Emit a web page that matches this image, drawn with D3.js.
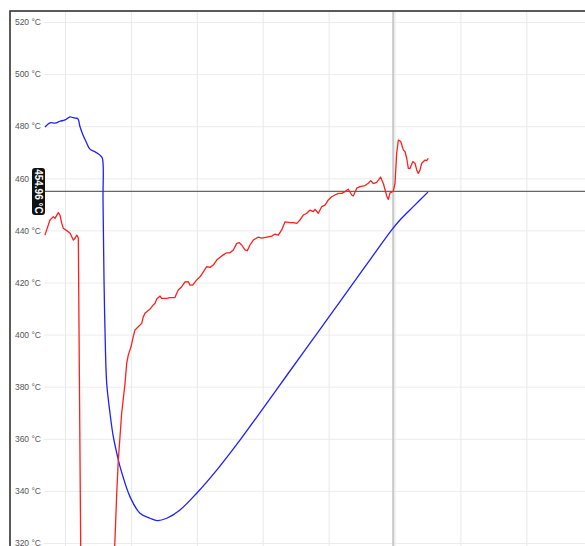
<!DOCTYPE html>
<html><head><meta charset="utf-8">
<script src="https://cdn.jsdelivr.net/npm/d3@7"></script>
<style>body{margin:0;background:#fff;overflow:hidden} svg{display:block}</style>
</head><body><svg id="c" width="585" height="546"></svg>
<script>
// ---- data (x in minutes, value in °C) ----
const redX = [-0.304,-0.278,-0.228,-0.178,-0.152,-0.102,-0.076,-0.050,-0.026,0.026,0.076,0.126,0.152,0.178,0.193,0.202,
  0.247,0.455,0.706,
  0.759,0.785,0.809,0.860,0.911,0.936,0.961,1.002,1.036,1.062,1.112,1.164,1.188,1.214,1.240,1.290,1.340,1.366,1.392,1.442,
  1.467,1.492,1.543,1.593,1.669,1.695,1.719,1.771,1.821,1.871,1.897,1.938,1.999,2.049,2.099,2.150,2.200,2.250,2.302,2.352,
  2.402,2.454,2.504,2.554,2.606,2.645,2.681,2.731,2.766,2.807,2.857,2.933,2.985,3.061,3.137,3.187,3.237,3.288,3.339,3.414,
  3.465,3.516,3.566,3.616,3.669,3.718,3.768,3.794,3.844,3.895,3.946,3.996,4.047,4.097,4.148,4.199,4.249,4.299,4.351,4.375,
  4.427,4.476,4.552,4.602,4.639,4.678,4.730,4.788,4.833,4.882,4.906,4.932,4.980,5.008,5.033,5.058,5.094,5.134,5.160,5.185,
  5.210,5.235,5.276,5.311,5.337,5.361,5.387,5.413,5.463,5.489,5.513];
const redT = [438.2,440.2,444.0,445.3,444.6,446.8,445.9,442.8,440.8,439.9,439.0,436.3,437.0,438.2,437.6,437.1,
  290,288,290,
  321.8,339.1,351.9,369.8,381.3,389.0,392.2,395.4,399.2,401.8,403.0,404.3,406.8,408.2,408.8,409.8,411.4,412.0,413.7,414.8,
  413.9,413.9,413.9,414.2,414.2,415.9,417.1,418.4,420.2,420.3,419.0,419.0,421.0,422.2,424.1,426.1,425.8,426.7,428.6,429.7,
  430.6,431.4,431.4,432.5,435.0,435.3,434.4,432.5,432.2,434.4,436.3,437.4,437.0,437.4,437.8,438.6,438.2,440.2,443.3,443.0,
  443.0,442.7,444.0,445.9,446.6,447.8,447.2,448.1,446.6,449.1,449.7,451.7,452.9,453.6,454.2,454.2,454.9,455.8,453.6,453.2,
  456.2,456.8,457.2,458.1,459.1,458.0,458.4,460.5,457.8,453.2,451.9,454.4,454.96,458.1,469.6,474.7,474.1,470.9,470.2,467.7,
  463.8,463.8,466.4,465.8,463.2,461.9,463.2,465.8,467.0,466.8,467.7];

const blueX = [-0.304,-0.228,-0.152,-0.076,0.000,0.076,0.121,0.167,0.197,0.228,0.273,0.319,0.379,0.455,0.531,0.566,
  0.577,0.592,0.607,0.633,0.683,0.733,0.809,0.835,0.986,1.138,1.290,1.401,1.543,1.745,1.998,2.302,2.655,3.009,3.364,
  3.718,4.071,4.401,4.628,4.958,5.083,5.296,5.508];
const blueT = [479.7,481.3,481.2,481.9,482.4,483.6,483.3,483.1,482.8,479.8,476.6,474.1,471.2,470.2,468.9,467.8,
  451.7,421.0,401.8,381.3,369.8,360.8,351.9,349.3,337.8,331.4,329.5,328.6,329.5,332.7,339.1,348.0,359.5,371.8,384.3,
  396.7,409.1,420.7,428.7,440.2,444.0,449.4,454.7];

const yTicks = [320,340,360,380,400,420,440,460,480,500,520];
const xTicks = [0,1,2,3,4,5,6,7,8];
const hoverX = 4.980;
const hoverValue = 454.96;

// ---- layout ----
const svg = d3.select("#c");
const plotLeft = 44, plotTop = 12, plotRight = 600, plotBottom = 600;
const x = d3.scaleLinear().domain([0, 8]).range([65, 65 + 8 * 65.9]);
const y = d3.scaleLinear().domain([320, 520]).range([543, 22]);

// frame
svg.append("rect").attr("x", 10).attr("y", 11).attr("width", 700).attr("height", 700)
  .attr("fill", "#fff").attr("stroke", "#333").attr("stroke-width", 1.6);

// vertical gridlines
svg.append("g").attr("transform", `translate(0,${plotTop})`)
  .call(d3.axisBottom(x).tickValues(xTicks).tickSize(plotBottom - plotTop).tickFormat(""))
  .call(g => g.select(".domain").remove())
  .call(g => g.selectAll("line").attr("stroke", "#e8e8e8").attr("stroke-width", 1));

// horizontal gridlines
svg.append("g").attr("transform", `translate(${plotLeft},0)`)
  .call(d3.axisRight(y).tickValues(yTicks).tickSize(plotRight - plotLeft).tickFormat(""))
  .call(g => g.select(".domain").remove())
  .call(g => g.selectAll("line").attr("stroke", "#ececec").attr("stroke-width", 1));

// y labels
svg.append("g").attr("transform", `translate(${plotLeft},0)`)
  .call(d3.axisLeft(y).tickValues(yTicks).tickSize(0).tickPadding(3).tickFormat(d => d + " °C"))
  .call(g => g.select(".domain").remove())
  .call(g => g.selectAll("text").attr("fill", "#555").attr("font-size", "8.5px")
     .attr("font-family", "'Liberation Sans', Arial, sans-serif"));

// clip
svg.append("clipPath").attr("id", "clip").append("rect")
  .attr("x", plotLeft).attr("y", plotTop).attr("width", plotRight - plotLeft).attr("height", 546 - plotTop);

// crosshairs
svg.append("line").attr("x1", x(hoverX)).attr("x2", x(hoverX)).attr("y1", plotTop).attr("y2", 546)
  .attr("stroke", "#c8c8c8").attr("stroke-width", 2);
svg.append("line").attr("x1", 43).attr("x2", 585).attr("y1", y(hoverValue)).attr("y2", y(hoverValue))
  .attr("stroke", "#666").attr("stroke-width", 1.2);

const gS = svg.append("g").attr("clip-path", "url(#clip)");
gS.append("path").datum(blueX.map((v, i) => [v, blueT[i]]))
  .attr("d", d3.line().x(d => x(d[0])).y(d => y(d[1])).curve(d3.curveCatmullRom.alpha(0.5)))
  .attr("fill", "none").attr("stroke", "#1f1fff").attr("stroke-width", 1.3);
gS.append("path").datum(redX.map((v, i) => [v, redT[i]]))
  .attr("d", d3.line().x(d => x(d[0])).y(d => y(d[1]))).attr("fill", "none")
  .attr("stroke", "#ff1f1f").attr("stroke-width", 1.3).attr("stroke-linejoin", "round");

// value label
const ly = y(hoverValue), lx = 38.5;
const lab = svg.append("g").attr("transform", `translate(${lx},${ly}) rotate(90)`);
lab.append("rect").attr("x", -23.5).attr("y", -6.5).attr("width", 47).attr("height", 13).attr("rx", 3)
  .attr("fill", "#111");
lab.append("text").attr("x", 0).attr("y", 0).attr("dy", "0.35em").attr("text-anchor", "middle")
  .attr("fill", "#fff").attr("font-size", "10px").attr("font-weight", "bold")
  .attr("font-family", "'Liberation Sans', Arial, sans-serif")
  .text(hoverValue.toFixed(2) + " °C");
</script></body></html>
